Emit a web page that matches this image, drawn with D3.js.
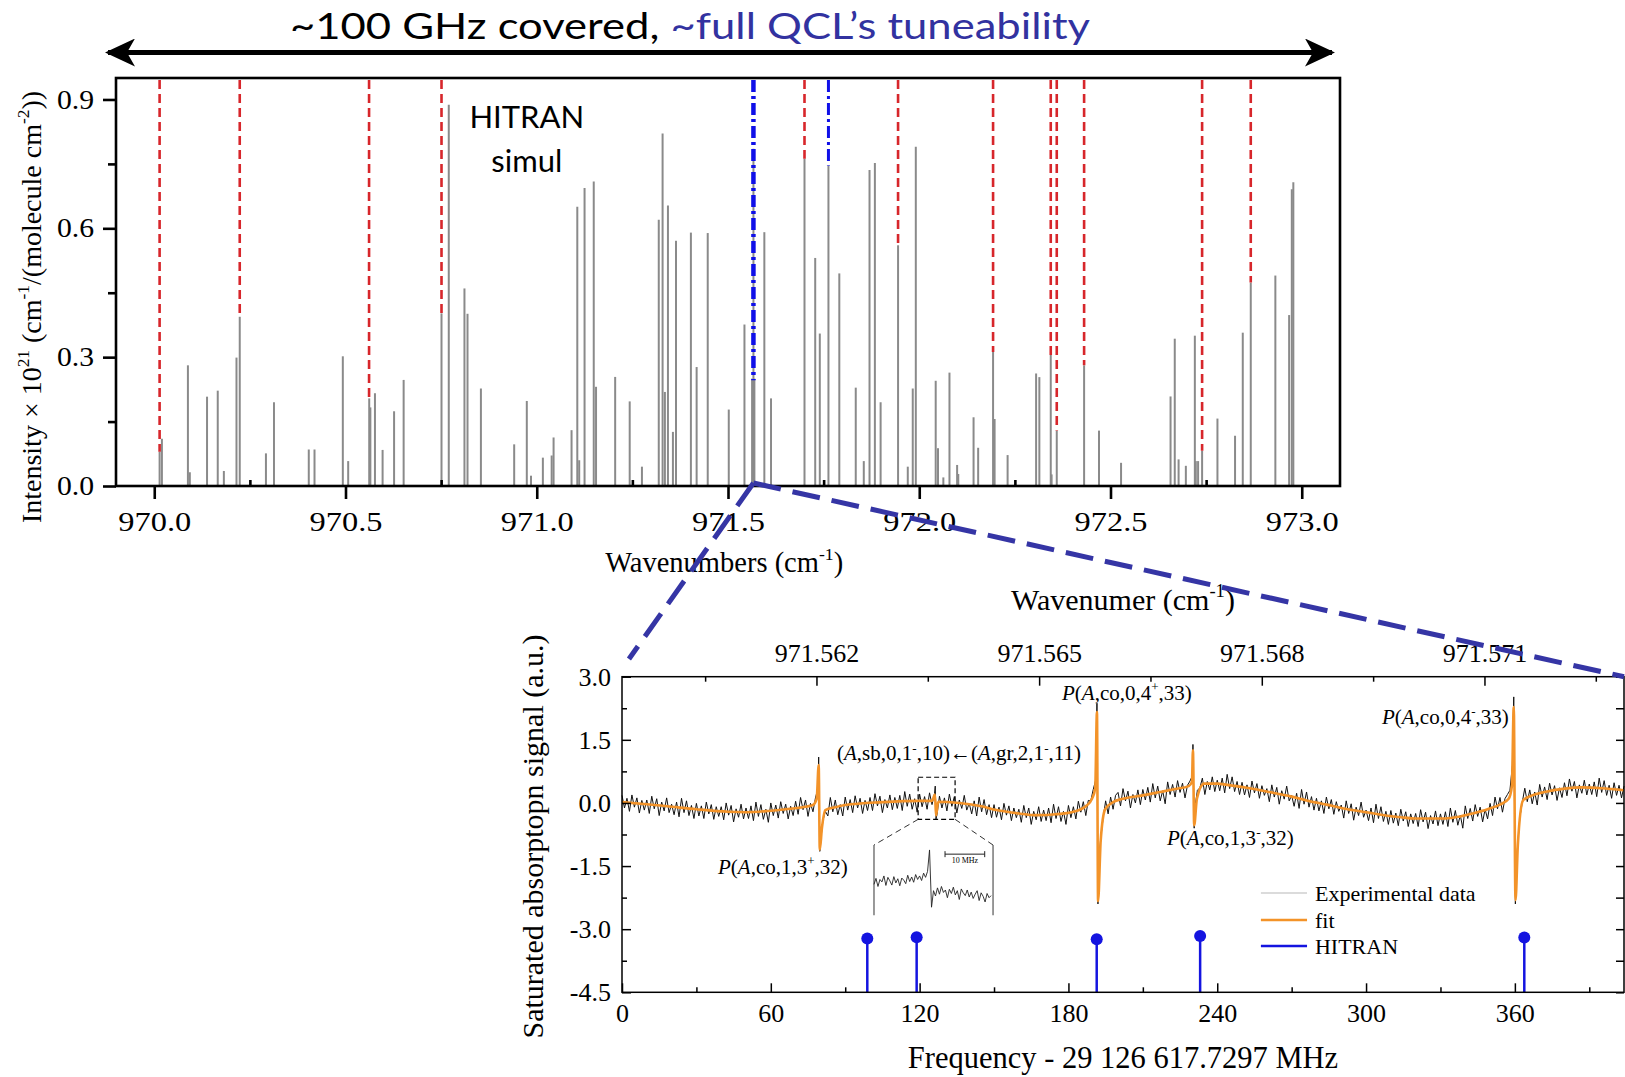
<!DOCTYPE html>
<html>
<head>
<meta charset="utf-8">
<script src="https://cdn.jsdelivr.net/npm/d3@7"></script>
<style>
  body { margin: 0; background: #fff; }
  svg { display: block; }
</style>
</head>
<body>
<svg id="chart"></svg>
<script>
// ---- overview: HITRAN stick spectrum (wavenumber cm-1, intensity x 1e21) ----
const stickWn = [970.014, 970.020, 970.088, 970.093, 970.138, 970.166, 970.182, 970.215, 970.2235, 970.292,
  970.313, 970.404, 970.419, 970.493, 970.507, 970.562, 970.565, 970.577, 970.597, 970.627,
  970.652, 970.751, 970.770, 970.811, 970.819, 970.854, 970.941, 970.974, 970.985, 971.016,
  971.039, 971.044, 971.091, 971.106, 971.111, 971.125, 971.149, 971.155, 971.205, 971.243,
  971.275, 971.319, 971.329, 971.335, 971.343, 971.356, 971.364, 971.403, 971.418, 971.447,
  971.502, 971.543, 971.563, 971.5665, 971.569, 971.595, 971.6125, 971.700, 971.728, 971.740,
  971.7626, 971.791, 971.834, 971.855, 971.870, 971.884, 971.899, 971.9446, 971.970, 971.983,
  971.991, 972.043, 972.049, 972.063, 972.079, 972.099, 972.102, 972.142, 972.154, 972.193,
  972.197, 972.231, 972.3055, 972.314, 972.3438, 972.346, 972.3595, 972.431, 972.470, 972.5276,
  972.657, 972.668, 972.678, 972.697, 972.7205, 972.723, 972.729, 972.7395, 972.7796, 972.8256,
  972.8458, 972.8667, 972.931, 972.967, 972.974, 972.978];
const stickInt = [0.08, 0.11, 0.281, 0.032, 0.208, 0.222, 0.035, 0.299, 0.394, 0.076,
  0.195, 0.085, 0.085, 0.302, 0.058, 0.204, 0.183, 0.216, 0.084, 0.174,
  0.247, 0.402, 0.888, 0.460, 0.401, 0.227, 0.097, 0.198, 0.024, 0.066,
  0.071, 0.113, 0.130, 0.650, 0.060, 0.694, 0.709, 0.231, 0.254, 0.197,
  0.045, 0.620, 0.821, 0.219, 0.653, 0.126, 0.571, 0.590, 0.277, 0.589,
  0.178, 0.376, 0.25, 0.785, 0.25, 0.591, 0.204, 0.762, 0.531, 0.355,
  0.7465, 0.495, 0.229, 0.058, 0.736, 0.752, 0.195, 0.5605, 0.045, 0.227,
  0.790, 0.245, 0.088, 0.020, 0.264, 0.049, 0.028, 0.160, 0.089, 0.312,
  0.156, 0.072, 0.262, 0.2535, 0.305, 0.027, 0.129, 0.281, 0.129, 0.054,
  0.2085, 0.343, 0.062, 0.047, 0.350, 0.058, 0.058, 0.082, 0.157, 0.117,
  0.357, 0.4736, 0.490, 0.398, 0.691, 0.707];

// lines already measured (red) and the ones in the zoom window (blue)
const assignedWn = [970.014, 970.2235, 970.5616, 970.751, 971.700, 971.9446, 972.193, 972.3438, 972.3595, 972.431, 972.7395, 972.8667];
const assignedEnd = [0.08, 0.394, 0.204, 0.402, 0.762, 0.5605, 0.312, 0.305, 0.129, 0.281, 0.082, 0.4736];
const zoomWn = [971.5665, 971.7626];
const zoomEnd = [0.2465, 0.7465];

const overviewXTicks = [970.0, 970.5, 971.0, 971.5, 972.0, 972.5, 973.0];
const overviewXMinor = [970.25, 970.75, 971.25, 971.75, 972.25, 972.75];
const overviewYTicks = [0, 0.3, 0.6, 0.9];
const overviewYMinor = [0.15, 0.45, 0.75];

// ---- zoom: saturated absorption signal vs frequency offset (MHz) ----
const expStart = 0, expStep = 1;
const expSignal = [
  0.18, -0.12, 0.11, -0.20, 0.19, -0.10, 0.12, -0.24, 0.06, -0.17,
  0.07, -0.25, 0.16, -0.14, 0.10, -0.30, 0.02, -0.19, 0.12, -0.23,
  -0.03, -0.28, 0.02, -0.33, 0.11, -0.23, 0.05, -0.30, -0.06, -0.37,
  -0.01, -0.31, -0.07, -0.37, 0.02, -0.26, -0.04, -0.39, -0.09, -0.32,
  -0.09, -0.40, 0.00, -0.29, -0.06, -0.45, -0.14, -0.34, -0.03, -0.38,
  -0.12, -0.37, -0.07, -0.42, 0.02, -0.32, -0.04, -0.39, -0.15, -0.46,
  0.00, -0.30, -0.05, -0.36, 0.03, -0.25, -0.03, -0.38, -0.08, -0.30,
  0.04, -0.27, 0.13, -0.16, 0.07, -0.32, -0.01, -0.21, 0.12, 0.35,
  -0.95, -0.42, -0.20, -0.31, 0.13, -0.21, 0.07, -0.28, -0.04, -0.31,
  0.14, -0.17, 0.08, -0.23, 0.17, -0.12, 0.11, -0.25, 0.06, -0.18,
  0.13, -0.18, 0.22, -0.07, 0.16, -0.23, 0.08, -0.12, 0.19, -0.16,
  0.13, -0.13, 0.18, -0.18, 0.27, -0.08, 0.21, -0.15, 0.10, -0.22,
  0.21, -0.09, 0.15, -0.15, 0.24, -0.04, 0.22, -0.28, 0.16, -0.12,
  0.12, -0.19, 0.21, -0.08, 0.15, -0.24, 0.07, -0.13, 0.18, -0.17,
  -0.01, -0.26, 0.05, -0.31, 0.14, -0.21, 0.08, -0.28, -0.04, -0.35,
  -0.04, -0.34, -0.10, -0.40, -0.01, -0.29, -0.07, -0.42, -0.12, -0.35,
  -0.15, -0.46, -0.06, -0.35, -0.12, -0.51, -0.20, -0.40, -0.09, -0.44,
  -0.17, -0.42, -0.12, -0.47, -0.03, -0.37, -0.09, -0.44, -0.20, -0.51,
  -0.06, -0.35, -0.09, -0.38, 0.04, -0.22, 0.03, -0.30, 0.06, 0.05,
  0.32, 0.55, -1.60, -0.85, -0.35, 0.05, -0.26, 0.14, -0.15, 0.18,
  0.25, -0.07, 0.34, 0.05, 0.28, -0.12, 0.20, 0.00, 0.31, -0.04,
  0.32, 0.07, 0.37, 0.02, 0.46, 0.12, 0.40, 0.05, 0.29, -0.02,
  0.50, 0.20, 0.44, 0.14, 0.53, 0.25, 0.47, 0.12, 0.42, 0.52,
  0.65, -0.10, 0.30, 0.36, 0.59, 0.20, 0.51, 0.31, 0.62, 0.27,
  0.54, 0.29, 0.59, 0.24, 0.68, 0.34, 0.62, 0.27, 0.51, 0.20,
  0.49, 0.19, 0.43, 0.13, 0.52, 0.24, 0.46, 0.11, 0.41, 0.18,
  0.34, 0.03, 0.43, 0.14, 0.37, -0.03, 0.29, 0.09, 0.40, 0.05,
  0.18, -0.08, 0.23, -0.13, 0.32, -0.03, 0.26, -0.10, 0.15, -0.17,
  0.11, -0.19, 0.05, -0.25, 0.14, -0.14, 0.08, -0.27, 0.03, -0.20,
  -0.05, -0.36, 0.05, -0.25, -0.02, -0.41, -0.10, -0.30, 0.02, -0.34,
  -0.17, -0.42, -0.12, -0.47, -0.03, -0.37, -0.09, -0.44, -0.20, -0.51,
  -0.18, -0.48, -0.24, -0.54, -0.15, -0.43, -0.21, -0.56, -0.26, -0.49,
  -0.25, -0.56, -0.16, -0.45, -0.22, -0.61, -0.30, -0.50, -0.19, -0.54,
  -0.26, -0.51, -0.21, -0.56, -0.12, -0.46, -0.18, -0.53, -0.29, -0.60,
  -0.07, -0.37, -0.13, -0.43, -0.04, -0.32, -0.10, -0.45, -0.15, -0.38,
  -0.01, -0.30, 0.14, -0.14, 0.13, -0.22, 0.10, 0.20, 0.30, 0.90,
  -1.20, -1.10, -0.35, 0.02, 0.35, 0.03, 0.31, -0.02, 0.26, -0.05,
  0.44, 0.14, 0.38, 0.08, 0.47, 0.19, 0.41, 0.06, 0.36, 0.13,
  0.48, 0.17, 0.57, 0.28, 0.51, 0.12, 0.43, 0.23, 0.54, 0.19,
  0.45, 0.20, 0.50, 0.15, 0.59, 0.25, 0.53, 0.18, 0.42, 0.11,
  0.48, 0.18, 0.42, 0.12, 0.40];
// sharp tips of the measured lines, between grid samples [MHz, signal]
const expSpikes = [[79.3, 1.09], [79.75, -1.15], [126.3, 0.40], [126.6, -0.38], [191.5, 2.37], [191.9, -2.40],
  [230.2, 1.39], [230.7, -0.60], [359.55, 2.52], [360.2, -2.40]];

const fitPoints = [[0, 0.02], [10, -0.03], [20, -0.09], [30, -0.15], [43, -0.21], [50, -0.22], [59, -0.19], [66, -0.15],
  [74, -0.09], [77, -0.05], [78.5, 0.10], [79.3, 0.90], [79.75, -1.11], [80.6, -0.60], [82, -0.17], [86, -0.10],
  [90, -0.05], [105, 0.02], [120, 0.05], [125, 0.05], [126.2, 0.20], [126.6, -0.30], [127.5, 0.03], [136, 0.0],
  [145, -0.08], [151, -0.17], [160, -0.25], [167, -0.29], [175, -0.27], [182, -0.21], [187, -0.08], [189.5, 0.10],
  [190.8, 0.35], [191.5, 2.16], [191.95, -2.33], [193, -0.90], [194.8, -0.15], [198, 0.02], [202, 0.10], [210, 0.18],
  [217, 0.26], [223, 0.33], [228.5, 0.40], [229.8, 0.50], [230.2, 1.25], [230.7, -0.53], [231.8, 0.10], [234.7, 0.46],
  [240, 0.46], [244, 0.43], [252, 0.36], [261, 0.26], [270, 0.15], [276, 0.06], [284, -0.04], [291, -0.13],
  [300, -0.22], [306, -0.28], [314, -0.34], [320, -0.37], [332, -0.37], [338, -0.32], [343, -0.25], [349, -0.15],
  [354, -0.04], [357.5, 0.10], [358.8, 0.40], [359.55, 2.28], [360.25, -2.31], [361.2, -1.00], [363.3, 0.06],
  [367, 0.18], [372, 0.26], [380, 0.34], [387, 0.37], [395, 0.35], [404, 0.30]];

const hitranFreq = [98.9, 118.8, 191.4, 233.1, 363.8];
const hitranHead = [-3.22, -3.19, -3.24, -3.16, -3.20];

const freqTicks = [0, 60, 120, 180, 240, 300, 360];
const freqMinor = [30, 90, 150, 210, 270, 330, 390];
const signalTicks = [-4.5, -3.0, -1.5, 0.0, 1.5, 3.0];
const signalMinor = [-3.75, -2.25, -0.75, 0.75, 2.25];
const wnTicks = [971.562, 971.565, 971.568, 971.571];
const wnMinor = [971.5605, 971.5635, 971.5665, 971.5695, 971.5725];

// inset around the weak (A,sb) line, 0.5 MHz samples starting at 112 MHz
const insetStart = 112, insetStep = 0.5;
const insetSignal = [-0.12, 0.05, -0.18, 0.02, -0.05, 0.12, -0.15, 0.08, -0.02, -0.14,
  0.10, -0.08, 0.04, -0.16, 0.06, 0.00, -0.10, 0.14, -0.04, 0.09,
  -0.06, 0.16, 0.02, 0.12, -0.01, 0.20, 0.08, 0.25, 0.86, -0.77,
  -0.30, -0.45, -0.22, -0.40, -0.18, -0.35, -0.28, -0.50, -0.26, -0.38,
  -0.20, -0.42, -0.30, -0.55, -0.25, -0.36, -0.44, -0.28, -0.48, -0.34,
  -0.52, -0.40, -0.30, -0.58, -0.36, -0.46, -0.62, -0.38, -0.50, -0.44];

const lineLabels = [
  {f: 177.4, v: 2.44, segs: [['P', 'i'], ['(', ''], ['A', 'i'], [',co,0,4', ''], ['+', 'sup'], [',33)', '']]},
  {f: 306.4, v: 1.87, segs: [['P', 'i'], ['(', ''], ['A', 'i'], [',co,0,4', ''], ['-', 'sup'], [',33)', '']]},
  {f: 219.7, v: -1.00, segs: [['P', 'i'], ['(', ''], ['A', 'i'], [',co,1,3', ''], ['-', 'sup'], [',32)', '']]},
  {f: 38.7, v: -1.69, segs: [['P', 'i'], ['(', ''], ['A', 'i'], [',co,1,3', ''], ['+', 'sup'], [',32)', '']]},
  {f: 86.7, v: 1.01, segs: [['(', ''], ['A', 'i'], [',sb,0,1', ''], ['-', 'sup'], [',10)\u2190(', ''], ['A', 'i'], [',gr,2,1', ''], ['-', 'sup'], [',11)', '']]}
];
const legendItems = ['Experimental data', 'fit', 'HITRAN'];

const SERIF = '"Liberation Serif", "Times New Roman", serif';
const SANS = 'Lato, "Open Sans", sans-serif';

function richText(sel, segs, size) {
  let shift = 0;
  segs.forEach(([txt, kind]) => {
    const target = kind === 'sup' ? -0.42 * size : 0;
    const t = sel.append('tspan').text(txt).attr('dy', target - shift);
    shift = target;
    if (kind === 'sup') t.attr('font-size', size * 0.62);
    if (kind === 'i') t.attr('font-style', 'italic');
  });
}

function styleAxis(g, size, width) {
  g.attr('font-family', SERIF).attr('font-size', size);
  g.select('.domain').remove();
  g.selectAll('.tick line').attr('stroke', '#000').attr('stroke-width', width);
  g.selectAll('.tick text').attr('fill', '#000');
}

class Overview {
  constructor(_config) {
    this.config = {
      parentElement: _config.parentElement,
      margin: _config.margin || {top: 78, left: 116},
      width: _config.width || 1224,
      height: _config.height || 408
    };
    this.initVis();
  }

  initVis() {
    let vis = this;
    vis.xScale = d3.scaleLinear().domain([969.9, 973.1]).range([0, vis.config.width]);
    vis.yScale = d3.scaleLinear().domain([0, 0.95]).range([vis.config.height, 0]);

    vis.chart = vis.config.parentElement.append('g')
        .attr('transform', `translate(${vis.config.margin.left},${vis.config.margin.top})`);

    vis.xAxis = d3.axisBottom(vis.xScale).tickValues(overviewXTicks).tickSize(13).tickPadding(13)
        .tickFormat(d => d.toFixed(1));
    vis.xMinor = d3.axisBottom(vis.xScale).tickValues(overviewXMinor).tickSize(-6).tickFormat('');
    vis.yAxis = d3.axisLeft(vis.yScale).tickValues(overviewYTicks).tickSize(13).tickPadding(9)
        .tickFormat(d => d.toFixed(1));
    vis.yMinor = d3.axisLeft(vis.yScale).tickValues(overviewYMinor).tickSize(8).tickFormat('');

    vis.sticks = stickWn.map((w, i) => ({wn: w, v: stickInt[i]}));
    vis.assigned = assignedWn.map((w, i) => ({wn: w, v: assignedEnd[i]}));
    vis.zoomed = zoomWn.map((w, i) => ({wn: w, v: zoomEnd[i]}));
    vis.updateVis();
  }

  updateVis() {
    let vis = this;
    const h = vis.config.height;

    vis.chart.selectAll('.stick')
        .data(vis.sticks)
        .join('line')
        .attr('class', 'stick')
        .attr('x1', d => vis.xScale(d.wn)).attr('x2', d => vis.xScale(d.wn))
        .attr('y1', h).attr('y2', d => vis.yScale(d.v))
        .attr('stroke', '#8a8a8a').attr('stroke-width', 2);

    vis.chart.selectAll('.assigned')
        .data(vis.assigned)
        .join('line')
        .attr('class', 'assigned')
        .attr('x1', d => vis.xScale(d.wn)).attr('x2', d => vis.xScale(d.wn))
        .attr('y1', 2).attr('y2', d => vis.yScale(d.v))
        .attr('stroke', '#d7262b').attr('stroke-width', 2.6)
        .attr('stroke-dasharray', '9,5');

    vis.chart.selectAll('.zoomed')
        .data(vis.zoomed)
        .join('line')
        .attr('class', 'zoomed')
        .attr('x1', d => vis.xScale(d.wn)).attr('x2', d => vis.xScale(d.wn))
        .attr('y1', 2).attr('y2', d => vis.yScale(d.v))
        .attr('stroke', '#1010e8').attr('stroke-width', (d, i) => i === 0 ? 4.5 : 3)
        .attr('stroke-dasharray', '12,4,3,4');

    // frame
    vis.chart.append('rect')
        .attr('width', vis.config.width).attr('height', h)
        .attr('fill', 'none').attr('stroke', '#000').attr('stroke-width', 2.6);

    // tick labels of this panel are drawn a little wide, as in the original figure
    const xg = vis.chart.append('g').attr('transform', `translate(0,${h})`).call(vis.xAxis);
    styleAxis(xg, 27, 2.6);
    xg.selectAll('.tick text').attr('transform', 'scale(1.2,1)');
    const xm = vis.chart.append('g').attr('transform', `translate(0,${h})`).call(vis.xMinor);
    styleAxis(xm, 27, 2.6);
    const yg = vis.chart.append('g').call(vis.yAxis);
    styleAxis(yg, 27, 2.6);
    yg.selectAll('.tick text').attr('transform', 'translate(-22,0) scale(1.1,1) translate(22,0)');
    const ym = vis.chart.append('g').call(vis.yMinor);
    styleAxis(ym, 27, 2.6);

    vis.chart.append('text')
        .attr('x', vis.xScale(970.974)).attr('y', vis.yScale(0.834))
        .attr('text-anchor', 'middle').attr('font-family', SANS).attr('font-size', 31)
        .text('HITRAN');
    vis.chart.append('text')
        .attr('x', vis.xScale(970.974)).attr('y', vis.yScale(0.730))
        .attr('text-anchor', 'middle').attr('font-family', SANS).attr('font-size', 31)
        .text('simul');

    const xt = vis.chart.append('text')
        .attr('x', vis.xScale(971.49)).attr('y', h + 86)
        .attr('text-anchor', 'middle').attr('font-family', SERIF).attr('font-size', 28.5);
    richText(xt, [['Wavenumbers (cm', ''], ['-1', 'sup'], [')', '']], 28.5);

    const yt = vis.chart.append('text')
        .attr('transform', `translate(${-75},${h / 2 + 25}) rotate(-90)`)
        .attr('text-anchor', 'middle').attr('font-family', SERIF).attr('font-size', 28);
    richText(yt, [['Intensity \u00d7 10', ''], ['21', 'sup'], [' (cm', ''], ['-1', 'sup'],
      ['/(molecule cm', ''], ['-2', 'sup'], ['))', '']], 28);
  }
}

class ZoomPanel {
  constructor(_config) {
    this.config = {
      parentElement: _config.parentElement,
      margin: _config.margin || {top: 676.7, left: 622},
      width: _config.width || 1002,
      height: _config.height || 315.6
    };
    this.initVis();
  }

  initVis() {
    let vis = this;
    vis.xScale = d3.scaleLinear().domain([0, 404]).range([0, vis.config.width]);
    vis.wnScale = d3.scaleLinear().domain([971.55938, 971.57288]).range([0, vis.config.width]);
    vis.yScale = d3.scaleLinear().domain([-4.5, 3.0]).range([vis.config.height, 0]);

    vis.chart = vis.config.parentElement.append('g')
        .attr('transform', `translate(${vis.config.margin.left},${vis.config.margin.top})`);

    vis.expData = expSignal.map((v, i) => [expStart + i * expStep, v])
        .concat(expSpikes)
        .sort((a, b) => a[0] - b[0]);
    vis.hitran = hitranFreq.map((f, i) => ({f: f, v: hitranHead[i]}));
    vis.updateVis();
  }

  updateVis() {
    let vis = this;
    const w = vis.config.width, h = vis.config.height;
    const fmt = d => d.toFixed(1);

    const line = d3.line().x(d => vis.xScale(d[0])).y(d => vis.yScale(d[1]));

    vis.chart.append('path')
        .datum(vis.expData)
        .attr('d', line)
        .attr('fill', 'none').attr('stroke', '#111').attr('stroke-width', 1);

    vis.chart.append('path')
        .datum(fitPoints)
        .attr('d', line.curve(d3.curveMonotoneX))
        .attr('fill', 'none').attr('stroke', '#f39329').attr('stroke-width', 2.6);

    // HITRAN stems
    vis.chart.selectAll('.stem')
        .data(vis.hitran)
        .join('line')
        .attr('class', 'stem')
        .attr('x1', d => vis.xScale(d.f)).attr('x2', d => vis.xScale(d.f))
        .attr('y1', h).attr('y2', d => vis.yScale(d.v))
        .attr('stroke', '#1414e0').attr('stroke-width', 2.5);
    vis.chart.selectAll('.head')
        .data(vis.hitran)
        .join('circle')
        .attr('class', 'head')
        .attr('cx', d => vis.xScale(d.f)).attr('cy', d => vis.yScale(d.v))
        .attr('r', 6).attr('fill', '#1414e0');

    // frame and axes (ticks point inwards)
    vis.chart.append('rect')
        .attr('width', w).attr('height', h)
        .attr('fill', 'none').attr('stroke', '#000').attr('stroke-width', 1.5);

    const bx = vis.chart.append('g').attr('transform', `translate(0,${h})`)
        .call(d3.axisBottom(vis.xScale).tickValues(freqTicks).tickSize(-9).tickPadding(11));
    styleAxis(bx, 26, 1.5);
    const bm = vis.chart.append('g').attr('transform', `translate(0,${h})`)
        .call(d3.axisBottom(vis.xScale).tickValues(freqMinor).tickSize(-5).tickFormat(''));
    styleAxis(bm, 26, 1.5);

    const tx = vis.chart.append('g')
        .call(d3.axisTop(vis.wnScale).tickValues(wnTicks).tickSize(-9).tickPadding(15).tickFormat(d => d.toFixed(3)));
    styleAxis(tx, 26, 1.5);
    const tm = vis.chart.append('g')
        .call(d3.axisTop(vis.wnScale).tickValues(wnMinor).tickSize(-5).tickFormat(''));
    styleAxis(tm, 26, 1.5);

    const ly = vis.chart.append('g')
        .call(d3.axisLeft(vis.yScale).tickValues(signalTicks).tickSize(-9).tickPadding(11).tickFormat(fmt));
    styleAxis(ly, 26, 1.5);
    const lm = vis.chart.append('g')
        .call(d3.axisLeft(vis.yScale).tickValues(signalMinor).tickSize(-5).tickFormat(''));
    styleAxis(lm, 26, 1.5);
    const ry = vis.chart.append('g').attr('transform', `translate(${w},0)`)
        .call(d3.axisRight(vis.yScale).tickValues(signalTicks.concat(signalMinor)).tickSize(-8).tickFormat(''));
    styleAxis(ry, 26, 1.5);

    // axis titles
    vis.chart.append('text')
        .attr('x', vis.xScale(202)).attr('y', h + 76)
        .attr('text-anchor', 'middle').attr('font-family', SERIF).attr('font-size', 30.5)
        .text('Frequency - 29 126 617.7297 MHz');
    const tt = vis.chart.append('text')
        .attr('x', vis.xScale(202)).attr('y', -67)
        .attr('text-anchor', 'middle').attr('font-family', SERIF).attr('font-size', 30);
    richText(tt, [['Wavenumer (cm', ''], ['-1', 'sup'], [')', '']], 30);
    vis.chart.append('text')
        .attr('transform', `translate(${-79},${h / 2 + 2}) rotate(-90)`)
        .attr('text-anchor', 'middle').attr('font-family', SERIF).attr('font-size', 30)
        .text('Saturated absorptopn signal (a.u.)');

    // line assignments
    lineLabels.forEach(l => {
      const t = vis.chart.append('text')
          .attr('x', vis.xScale(l.f)).attr('y', vis.yScale(l.v))
          .attr('font-family', SERIF).attr('font-size', 21);
      richText(t, l.segs, 21);
    });

    // legend
    const legendColors = ['#cfcfcf', '#f39329', '#1414e0'];
    const legendV = [-2.14, -2.78, -3.40];
    legendItems.forEach((name, i) => {
      vis.chart.append('line')
          .attr('x1', vis.xScale(257.6)).attr('x2', vis.xScale(276.2))
          .attr('y1', vis.yScale(legendV[i])).attr('y2', vis.yScale(legendV[i]))
          .attr('stroke', legendColors[i]).attr('stroke-width', i === 0 ? 1.5 : 2.5);
      vis.chart.append('text')
          .attr('x', vis.xScale(279.4)).attr('y', vis.yScale(legendV[i]) + 8)
          .attr('font-family', SERIF).attr('font-size', 22)
          .text(name);
    });

    // dashed box round the weak line and its blown-up inset
    vis.chart.append('rect')
        .attr('x', vis.xScale(119.4)).attr('y', vis.yScale(0.61))
        .attr('width', vis.xScale(134.3) - vis.xScale(119.4))
        .attr('height', vis.yScale(-0.39) - vis.yScale(0.61))
        .attr('fill', 'none').attr('stroke', '#000').attr('stroke-width', 1.2)
        .attr('stroke-dasharray', '5,3');
    [[119.4, 101.6], [134.3, 149.6]].forEach(([a, b]) => {
      vis.chart.append('line')
          .attr('x1', vis.xScale(a)).attr('y1', vis.yScale(-0.39))
          .attr('x2', vis.xScale(b)).attr('y2', vis.yScale(-1.0))
          .attr('stroke', '#333').attr('stroke-width', 1).attr('stroke-dasharray', '6,4');
    });
    const ix = d3.scaleLinear().domain([112, 142]).range([vis.xScale(101.6), vis.xScale(149.6)]);
    const iy = d3.scaleLinear().domain([-1, 1]).range([vis.yScale(-2.67), vis.yScale(-1.0)]);
    [112, 142].forEach(f => {
      vis.chart.append('line')
          .attr('x1', ix(f)).attr('x2', ix(f)).attr('y1', iy(-1)).attr('y2', iy(1))
          .attr('stroke', '#555').attr('stroke-width', 1.2);
    });
    vis.chart.append('path')
        .datum(insetSignal.map((v, i) => [insetStart + i * insetStep, v]))
        .attr('d', d3.line().x(d => ix(d[0])).y(d => iy(d[1])))
        .attr('fill', 'none').attr('stroke', '#222').attr('stroke-width', 0.9);
    vis.chart.append('line')
        .attr('x1', ix(129.9)).attr('x2', ix(139.9)).attr('y1', iy(0.74)).attr('y2', iy(0.74))
        .attr('stroke', '#222').attr('stroke-width', 1);
    [129.9, 139.9].forEach(f => {
      vis.chart.append('line')
          .attr('x1', ix(f)).attr('x2', ix(f)).attr('y1', iy(0.74) - 3).attr('y2', iy(0.74) + 3)
          .attr('stroke', '#222').attr('stroke-width', 1);
    });
    vis.chart.append('text')
        .attr('x', ix(134.9)).attr('y', iy(0.50))
        .attr('text-anchor', 'middle').attr('font-family', SERIF).attr('font-size', 8)
        .text('10 MHz');
  }
}

const svg = d3.select('#chart').attr('width', 1625).attr('height', 1077);
svg.append('rect').attr('width', 1625).attr('height', 1077).attr('fill', '#fff');

// headline with the double arrow spanning the tuning range
svg.append('defs').append('marker')
    .attr('id', 'head')
    .attr('viewBox', '0 0 30 28').attr('refX', 27).attr('refY', 14)
    .attr('markerWidth', 30).attr('markerHeight', 28)
    .attr('markerUnits', 'userSpaceOnUse')
    .attr('orient', 'auto-start-reverse')
    .append('path').attr('d', 'M0,0 L30,14 L0,28 L8,14 Z').attr('fill', '#000');

const overview = new Overview({parentElement: svg});
const zoom = new ZoomPanel({parentElement: svg});

svg.append('line')
    .attr('x1', 108).attr('x2', 1332).attr('y1', 52.5).attr('y2', 52.5)
    .attr('stroke', '#000').attr('stroke-width', 5)
    .attr('marker-start', 'url(#head)').attr('marker-end', 'url(#head)');

// Calibri-like headline: slightly condensed sans stretched to the original width
const title = svg.append('text')
    .attr('x', 290).attr('y', 39)
    .attr('font-family', SANS).attr('font-size', 37)
    .attr('textLength', 800).attr('lengthAdjust', 'spacingAndGlyphs');
title.append('tspan').attr('fill', '#000').text('~100 GHz covered, ');
title.append('tspan').attr('fill', '#3232a0').text('~full QCL\u2019s tuneability');

// dashed connectors from the zoomed line in the overview to the lower panel
const apex = [overview.config.margin.left + overview.xScale(971.5665), overview.config.margin.top + overview.yScale(0) - 3];
[[2.8, 3.42], [404, 3.0]].forEach(([f, v]) => {
  svg.append('line')
      .attr('x1', apex[0]).attr('y1', apex[1])
      .attr('x2', zoom.config.margin.left + zoom.xScale(f))
      .attr('y2', zoom.config.margin.top + zoom.yScale(v))
      .attr('stroke', '#3535a5').attr('stroke-width', 5)
      .attr('stroke-dasharray', '28,12');
});
</script>
</body>
</html>
